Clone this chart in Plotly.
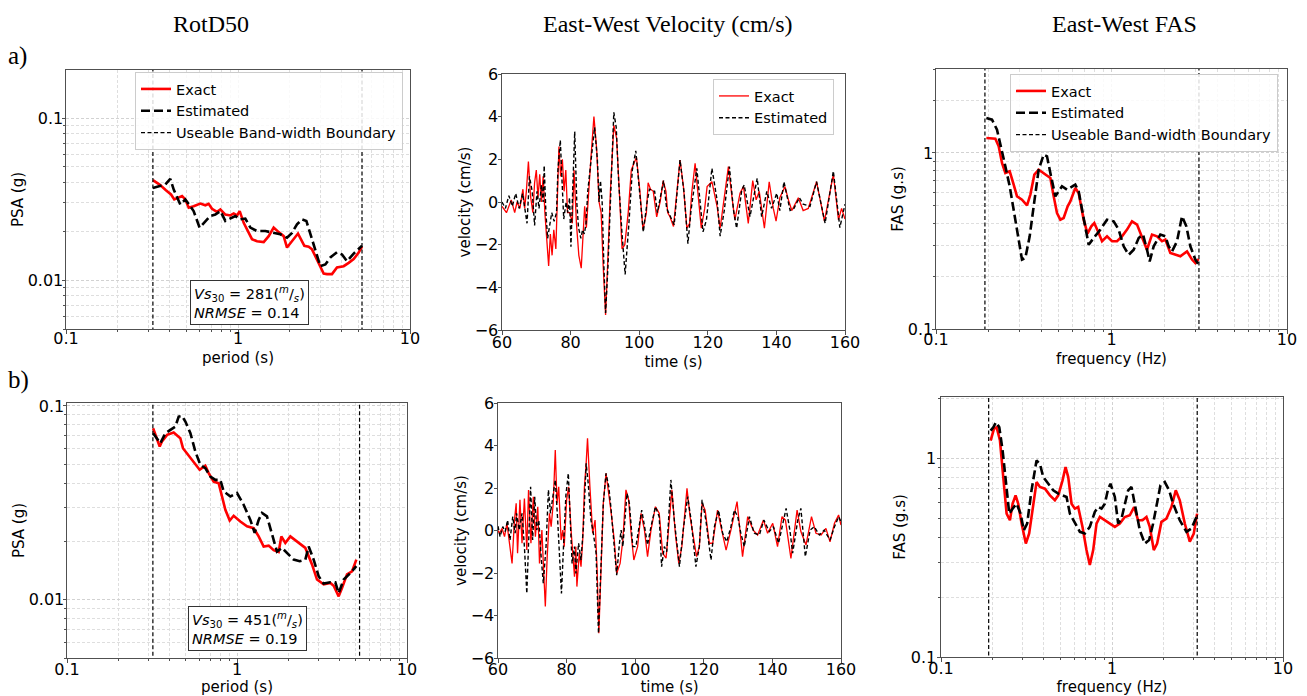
import math
import plotly.graph_objects as go

W, H = 1307, 696

# ---------------- data ----------------
BAND_PERIOD = [0.32, 5.26]      # usable band (period, s)
BAND_FREQ = [0.19, 3.15]        # usable band (frequency, Hz)
BAND_Y = [1e-4, 1e2]            # full vertical extent of boundary lines

# a) RotD50  (period s, PSA g)
A_PSA_EXACT = [(0.320,0.0414),(0.350,0.0389),(0.381,0.0359),(0.408,0.0338),(0.426,0.0315),(0.452,0.0322),
               (0.473,0.0330),(0.494,0.0315),(0.517,0.0280),(0.552,0.0286),(0.604,0.0297),(0.646,0.0290),
               (0.675,0.0296),(0.706,0.0276),(0.755,0.0264),(0.790,0.0273),(0.844,0.0254),(0.902,0.0251),
               (0.944,0.0258),(0.987,0.0251),(1.023,0.0267),(1.079,0.0226),(1.153,0.0196),(1.206,0.0179),
               (1.29,0.0174),(1.41,0.0172),(1.508,0.0187),(1.612,0.0211),(1.723,0.0198),(1.843,0.0187),
               (1.927,0.0159),(2.061,0.0174),(2.233,0.0194),(2.431,0.0163),(2.576,0.0161),(2.693,0.0155),
               (2.944,0.0128),(3.148,0.0110),(3.291,0.0109),(3.519,0.0109),(3.763,0.0120),(4.115,0.0122),
               (4.40,0.0128),(4.704,0.0135),(5.03,0.0148),(5.26,0.0161)]
A_PSA_EST = [(0.320,0.0371),(0.350,0.0380),(0.378,0.0389),(0.404,0.0422),(0.423,0.0362),(0.462,0.0293),
             (0.494,0.0315),(0.524,0.0289),(0.552,0.0267),(0.598,0.0211),(0.646,0.0232),(0.690,0.0249),
             (0.738,0.0254),(0.790,0.0267),(0.844,0.0232),(0.902,0.0239),(0.965,0.0249),(1.023,0.0237),
             (1.103,0.0240),(1.18,0.0211),(1.29,0.0201),(1.442,0.0201),(1.612,0.0196),(1.762,0.0192),
             (1.927,0.0183),(2.061,0.0196),(2.203,0.0221),(2.356,0.0237),(2.497,0.0232),(2.634,0.0192),
             (2.816,0.0155),(3.011,0.0122),(3.219,0.0125),(3.441,0.0138),(3.763,0.0149),(4.025,0.0144),
             (4.303,0.0131),(4.704,0.0146),(5.26,0.0163)]

# b) RotD50
B_PSA_EXACT = [(0.321,0.0767),(0.351,0.0617),(0.362,0.0655),(0.388,0.0709),(0.424,0.0729),(0.464,0.0681),
               (0.481,0.0605),(0.532,0.0537),(0.603,0.0468),(0.651,0.0491),(0.681,0.0450),(0.729,0.0407),
               (0.780,0.0399),(0.816,0.0341),(0.854,0.0291),(0.906,0.0256),(0.956,0.0271),(1.046,0.0253),
               (1.145,0.0239),(1.253,0.0234),(1.341,0.0212),(1.435,0.0188),(1.536,0.0190),(1.643,0.0180),
               (1.758,0.0176),(1.823,0.0212),(1.924,0.0196),(2.059,0.0212),(2.305,0.0196),(2.523,0.0185),
               (2.762,0.0152),(2.955,0.0127),(3.235,0.0120),(3.54,0.0122),(3.704,0.0118),(3.963,0.0104),
               (4.147,0.0115),(4.437,0.0135),(4.748,0.0140),(5.035,0.0161)]
B_PSA_EST = [(0.321,0.0723),(0.338,0.0681),(0.354,0.0642),(0.379,0.0723),(0.415,0.0767),(0.434,0.0782),
             (0.454,0.0881),(0.475,0.0888),(0.497,0.0830),(0.532,0.0723),(0.569,0.0581),(0.609,0.0496),
             (0.651,0.0477),(0.697,0.0432),(0.746,0.0415),(0.798,0.0415),(0.835,0.0362),(0.914,0.0341),
             (1.0,0.0355),(1.094,0.0309),(1.198,0.0258),(1.27,0.0221),(1.341,0.0258),(1.403,0.0280),
             (1.501,0.0269),(1.607,0.0221),(1.719,0.0177),(1.839,0.0185),(1.968,0.0174),(2.154,0.0161),
             (2.337,0.0158),(2.523,0.0161),(2.64,0.0188),(2.825,0.0161),(3.023,0.0132),(3.235,0.0121),
             (3.54,0.0123),(3.788,0.0123),(3.963,0.0108),(4.242,0.0127),(4.642,0.0137),(5.035,0.0149)]

# a) East-West velocity (time s, cm/s)
A_VEL_EXACT = [(60,-0.2),(61.3,-0.5),(62.7,0.1),(63.7,-0.5),(64.4,0.0),(65.2,-0.3),(66.1,0.6),(66.6,-0.3),
               (67.1,0.5),(67.7,1.9),(68.3,0.3),(69.0,-0.5),(69.5,0.9),(70.0,1.5),(70.5,0.2),(71.0,1.3),
               (71.5,0.0),(72.0,1.2),(72.5,-0.5),(73.0,-1.5),(73.6,-3.0),(74.1,-1.5),(74.6,-2.5),(75.1,-1.3),
               (75.7,-2.2),(76.3,1.0),(76.6,2.6),(77.1,1.2),(77.6,2.0),(78.1,0.5),(78.6,1.5),(79.1,-0.5),
               (79.8,-0.5),(80.5,-1.0),(81.0,1.5),(81.7,-1.0),(82.4,-2.5),(83.1,-3.1),(83.6,-1.5),(84.1,-0.2),
               (84.6,-1.2),(85.2,0.5),(85.9,2.0),(86.8,4.0),(87.6,2.5),(88.3,0.0),(88.9,-0.5),(89.5,-3.0),
               (90.2,-5.3),(90.9,-2.5),(91.6,0.5),(92.6,3.6),(93.4,3.0),(94.2,0.5),(95.0,-2.2),(95.8,-2.0),
               (96.8,-0.5),(97.7,1.5),(99.2,2.1),(100.2,0.5),(101.1,-1.3),(102.1,-0.5),(102.6,0.9),(103.3,0.6),
               (104.1,0.5),(105.1,-0.7),(106.1,0.0),(107.0,1.0),(107.8,0.5),(108.3,-0.5),(109.0,-0.7),
               (110.0,-1.15),(111.0,0.56),(111.9,1.97),(112.9,0.72),(113.9,-1.23),(114.7,-1.0),(115.3,0.41),
               (116.3,1.81),(117.3,0.25),(118.1,-1.23),(119.1,-0.3),(119.8,0.72),(121.2,0.95),(122.7,-0.2),
               (123.6,-1.23),(124.6,-0.1),(126.0,1.66),(127.3,-0.1),(127.9,-0.84),(129.4,0.41),(130.4,0.72),
               (131.8,-1.0),(133.1,1.0),(134.1,0.1),(135.0,0.5),(136.5,-1.23),(137.9,0.95),(139.1,-0.3),
               (139.9,-0.9),(141.0,0.2),(142.5,0.72),(143.5,0.1),(144.5,-0.4),(146.4,0.2),(147.8,-0.4),
               (149.3,-0.3),(151.7,0.95),(154.0,-0.9),(156.6,1.3),(158.1,-0.84),(159.0,-0.3),(160.0,-0.8)]
A_VEL_EST = [(60,0.0),(61,-0.3),(62,0.3),(63,-0.2),(64,0.4),(65,-0.3),(66,0.4),(66.8,-0.5),(67.3,-1.0),
             (68,1.2),(68.8,0.5),(69.5,-1.1),(70.2,0.5),(70.8,-0.3),(71.5,0.8),(72.0,0.0),(72.3,1.7),
             (72.8,-0.5),(73.3,-1.7),(73.8,-1.2),(74.5,-0.5),(75.2,-0.9),(75.9,-0.5),(76.3,1.5),(77.0,2.9),
             (77.5,1.0),(78.0,-0.8),(78.7,0.0),(79.2,-0.5),(79.7,0.2),(80.1,-2.1),(80.6,0.5),(81.2,3.3),
             (81.8,0.0),(82.3,-1.2),(83.0,-1.7),(83.5,-1.3),(84.0,-1.5),(84.5,-1.0),(85.0,0.5),(86.0,2.0),
             (87.0,3.5),(87.8,2.0),(88.3,0.0),(88.7,1.0),(89.2,0.0),(89.7,-3.0),(90.2,-5.2),(90.9,-3.0),
             (91.6,0.0),(92.6,4.2),(93.3,3.5),(94.0,1.0),(95.0,-1.5),(95.9,-3.4),(97.0,-1.0),(98.0,1.5),
             (99.0,2.4),(100.0,0.5),(101.2,-1.4),(102.3,0.0),(103.0,0.6),(104.5,0.5),(105.3,-0.5),(106.5,0.5),
             (107.1,1.0),(108.0,-0.3),(109.0,-0.69),(110.2,-1.07),(111.9,1.97),(113.1,0.41),(114.2,-1.95),
             (115.1,-0.4),(116.8,1.58),(117.8,0.1),(118.6,-1.4),(119.6,-0.84),(121.2,1.58),(122.7,0.1),
             (123.6,-1.6),(124.8,-0.4),(126.3,1.66),(127.5,-0.4),(128.4,-1.23),(129.9,0.56),(130.6,0.8),
             (132.3,-0.69),(134.4,1.11),(135.7,-0.69),(137.2,0.5),(138.6,-0.3),(140.1,0.41),(141.0,-0.4),
             (142.2,0.95),(144.0,-0.4),(145.1,-0.3),(146.7,0.2),(147.8,-0.1),(149.8,-0.2),(151.7,0.95),
             (154.2,-1.0),(156.6,1.45),(158.5,-1.2),(160.0,-0.1)]

# b) East-West velocity
B_VEL_EXACT = [(60,0.0),(60.4,-0.13),(61.2,0.1),(61.9,-0.29),(62.6,0.34),(63.3,-0.45),(64.1,-1.55),(64.8,0.49),
               (65.3,1.28),(65.7,-1.07),(66.4,1.44),(67.0,-0.6),(67.7,1.51),(68.4,-0.92),(68.9,1.9),(69.6,-0.6),
               (70.3,1.59),(70.9,-0.29),(71.6,1.12),(72.1,-1.55),(72.8,0.02),(73.3,-1.86),(73.8,-3.58),
               (74.3,-1.39),(75.0,0.81),(75.5,0.18),(76.1,1.28),(76.7,3.79),(77.2,1.28),(77.7,2.06),(78.4,-0.45),
               (78.9,0.02),(79.3,-0.76),(80.0,1.44),(80.6,2.06),(81.3,0.02),(81.8,-1.07),(82.3,-2.17),
               (82.7,-0.76),(83.0,-2.64),(83.7,-1.07),(84.2,-1.7),(84.7,-0.45),(85.2,2.06),(85.7,3.16),
               (86.1,4.34),(86.8,2.06),(87.6,-0.13),(88.3,0.49),(88.9,-1.86),(89.4,-4.84),(90.0,-1.86),
               (90.7,1.28),(91.5,2.69),(92.2,1.91),(92.9,0.96),(93.9,-0.45),(94.6,-2.02),(95.6,-1.55),
               (96.4,-0.45),(97.3,1.91),(98.1,1.44),(98.8,-0.13),(99.6,-1.39),(100.7,-0.76),(101.7,0.81),
               (102.7,0.02),(103.6,-1.23),(104.6,0.02),(105.9,1.12),(107.0,0.81),(108.0,-1.07),(109.0,-1.3),
               (110.0,0.49),(110.7,1.91),(111.7,-0.13),(112.7,-1.55),(113.6,-0.76),(114.3,0.49),(115.1,1.98),
               (116.0,0.65),(117.0,-0.29),(117.9,-1.23),(118.7,-0.76),(119.5,1.28),(120.4,0.96),(121.6,-0.6),
               (122.6,-0.6),(124.0,0.96),(125.0,0.18),(126.5,-0.92),(127.9,0.02),(129.7,1.36),(131.3,-1.23),
               (132.8,0.65),(134.4,0.02),(135.7,-0.21),(137.4,0.49),(138.6,-0.13),(140.1,0.34),(141.5,-0.76),
               (142.8,0.65),(143.8,0.49),(145.4,-1.31),(147.2,0.96),(148.3,-0.05),(149.8,-0.68),(151.4,0.65),
               (152.7,-0.13),(154.2,-0.21),(155.6,0.1),(156.8,-0.53),(158.1,0.34),(159.3,0.73),(160.0,0.26)]
B_VEL_EST = [(60,0.2),(60.6,-0.29),(61.4,0.18),(62.1,-0.05),(62.8,0.49),(63.5,-0.45),(64.3,0.65),(65.0,-0.13),
             (65.4,0.81),(66.2,0.02),(67.0,0.81),(67.7,-0.76),(68.4,-2.96),(68.9,-0.29),(69.5,2.06),(70.1,-0.45),
             (70.7,1.59),(71.3,0.02),(71.9,0.49),(72.5,-1.07),(73.2,-2.48),(74.0,-0.76),(74.7,1.91),(75.3,0.81),
             (75.9,1.59),(76.7,2.38),(77.4,0.49),(77.9,-1.07),(78.5,-2.96),(79.1,-0.76),(79.8,1.67),(80.5,2.69),
             (81.1,0.49),(81.6,-1.55),(82.3,-0.76),(82.7,-2.02),(83.5,-0.6),(84.2,-1.39),(84.9,0.18),(85.7,3.16),
             (86.3,2.22),(87.1,0.49),(87.8,-0.13),(88.6,-1.07),(89.3,-4.84),(90.0,-1.86),(90.7,1.28),(91.5,2.69),
             (92.3,2.06),(92.9,1.12),(93.9,-0.76),(94.6,-2.1),(95.4,-0.6),(95.9,0.02),(96.4,-0.76),(97.6,1.75),
             (98.3,1.28),(99.3,-0.76),(100.2,-0.76),(101.9,0.96),(102.9,0.02),(103.6,-0.68),(104.6,0.18),
             (105.9,1.12),(107.0,0.65),(107.7,-1.7),(108.5,-0.76),(109.2,-1.0),(110.4,2.38),(111.4,0.49),
             (112.9,-1.7),(114.0,0.02),(115.3,1.59),(116.3,0.49),(117.7,-1.7),(118.7,-0.76),(119.5,1.44),
             (120.6,0.49),(122.1,-1.39),(123.1,0.18),(124.3,0.96),(125.5,-0.13),(126.7,-0.53),(127.9,0.18),
             (128.9,0.96),(129.9,0.65),(130.8,-0.13),(131.8,-0.76),(133.3,0.65),(134.7,-0.13),(136.2,-0.21),
             (137.5,0.49),(139.1,-0.05),(140.3,0.18),(141.8,-0.6),(143.0,0.34),(144.0,1.04),(145.1,0.02),
             (145.9,-1.07),(147.4,0.49),(148.3,1.04),(149.6,-1.23),(151.0,0.02),(152.2,0.18),(153.7,-0.21),
             (155.1,0.02),(156.8,-0.45),(158.1,0.18),(159.3,0.65),(160.0,0.42)]

# a) East-West FAS (frequency Hz, g.s)
A_FAS_EXACT = [(0.1936,1.217),(0.2179,1.206),(0.2276,1.091),(0.2377,0.877),(0.2484,0.770),(0.2630,0.787),
               (0.2771,0.661),(0.2895,0.567),(0.3090,0.543),(0.3300,0.504),(0.3449,0.580),(0.3634,0.753),
               (0.3846,0.804),(0.4107,0.770),(0.4483,0.721),(0.4684,0.567),(0.4892,0.456),(0.5111,0.418),
               (0.5338,0.427),(0.5626,0.498),(0.5826,0.531),(0.622,0.633),(0.6499,0.593),(0.694,0.418),
               (0.73,0.348),(0.7673,0.383),(0.798,0.400),(0.845,0.351),(0.883,0.315),(0.943,0.336),
               (1.007,0.315),(1.075,0.315),(1.148,0.336),(1.226,0.367),(1.309,0.409),(1.398,0.392),
               (1.493,0.336),(1.593,0.282),(1.701,0.344),(1.817,0.336),(1.94,0.315),(2.027,0.322),
               (2.164,0.270),(2.311,0.264),(2.468,0.259),(2.693,0.276),(2.876,0.248),(3.005,0.237),(3.139,0.250)]
A_FAS_EST = [(0.1936,1.581),(0.2085,1.547),(0.2226,1.357),(0.2346,1.091),(0.2484,0.840),(0.2630,0.647),
             (0.2771,0.476),(0.2920,0.336),(0.3090,0.248),(0.3228,0.253),(0.3418,0.336),(0.3602,0.498),
             (0.3846,0.804),(0.4107,0.978),(0.4291,0.957),(0.4483,0.770),(0.4786,0.567),(0.5000,0.606),
             (0.5223,0.647),(0.5577,0.619),(0.6220,0.661),(0.6499,0.606),(0.6940,0.437),(0.7411,0.301),
             (0.7914,0.329),(0.8638,0.367),(0.9427,0.418),(1.0288,0.409),(1.0985,0.367),(1.1731,0.295),
             (1.2528,0.264),(1.3379,0.282),(1.4288,0.329),(1.5126,0.344),(1.5934,0.282),(1.6502,0.242),
             (1.7389,0.295),(1.8982,0.344),(2.0268,0.336),(2.1174,0.295),(2.2121,0.276),(2.3620,0.315),
             (2.5222,0.437),(2.6699,0.383),(2.8138,0.295),(3.0046,0.248),(3.1389,0.232)]

# b) East-West FAS
B_FAS_EXACT = [(0.1951,1.226),(0.2040,1.403),(0.2115,1.430),(0.2212,1.226),(0.2313,0.803),(0.2419,0.526),
               (0.2530,0.487),(0.2622,0.590),(0.2730,0.650),(0.2829,0.590),(0.2960,0.469),(0.3134,0.372),
               (0.3278,0.418),(0.3460,0.590),(0.3620,0.758),(0.3788,0.716),(0.4053,0.702),(0.4336,0.650),
               (0.4635,0.614),(0.4849,0.650),(0.5138,0.773),(0.5350,0.901),(0.5546,0.803),(0.5800,0.590),
               (0.6066,0.557),(0.6343,0.568),(0.6723,0.451),(0.7093,0.345),(0.7419,0.290),(0.7762,0.345),
               (0.8118,0.469),(0.8491,0.506),(0.9082,0.487),(0.9712,0.469),(1.0389,0.451),(1.1112,0.469),
               (1.1885,0.506),(1.2711,0.516),(1.3474,0.568),(1.4219,0.487),(1.5071,0.487),(1.5903,0.506),
               (1.6633,0.451),(1.7553,0.345),(1.8361,0.372),(1.9458,0.478),(2.0810,0.497),(2.2263,0.568),
               (2.3600,0.689),(2.4913,0.614),(2.6651,0.469),(2.8502,0.380),(3.0077,0.418),(3.1457,0.526)]
B_FAS_EST = [(0.1951,1.376),(0.2022,1.430),(0.2096,1.515),(0.2192,1.430),(0.2293,1.092),(0.2398,0.744),
             (0.2507,0.526),(0.2622,0.557),(0.2767,0.590),(0.2920,0.526),(0.3050,0.434),(0.3191,0.469),
             (0.3383,0.689),(0.3620,0.973),(0.3788,0.937),(0.3963,0.803),(0.4240,0.744),(0.4534,0.689),
             (0.4849,0.663),(0.5138,0.650),(0.5423,0.638),(0.5671,0.526),(0.6066,0.469),(0.6487,0.426),
             (0.6936,0.418),(0.7419,0.451),(0.7938,0.537),(0.8302,0.568),(0.8683,0.557),(0.9082,0.590),
             (0.9497,0.702),(0.9800,0.744),(1.0389,0.638),(1.0865,0.469),(1.1364,0.497),(1.1885,0.590),
             (1.2429,0.689),(1.2999,0.716),(1.3595,0.590),(1.4540,0.434),(1.5551,0.372),(1.6484,0.387),
             (1.7396,0.469),(1.8197,0.568),(1.9198,0.730),(2.0349,0.758),(2.1577,0.689),(2.2771,0.590),
             (2.4913,0.487),(2.7254,0.426),(2.9149,0.443),(3.1176,0.506)]

STATS_A = ("281", "0.14")
STATS_B = ("451", "0.19")
COL_TITLES = ["RotD50", "East-West Velocity (cm/s)", "East-West FAS"]
ROW_LABELS = ["a)", "b)"]

# ---------------- layout helpers ----------------
SANS = "DejaVu Sans"
SERIF = "Liberation Serif"
AXC = "#505050"
GRIDC = "#d2d2d2"
MINORC = "#dedede"
GDASH = "3px,2px"
MINOR_LOG = [m * 10.0 ** e for e in range(-3, 2) for m in range(2, 10)]


def xd(p0, p1):
    return [p0 / W, p1 / W]


def yd(top, bottom):
    return [1 - bottom / H, 1 - top / H]


def base_axis(dom, anchor, title, standoff, lab_shift):
    return dict(domain=dom, anchor=anchor, showline=True, linecolor=AXC, linewidth=1, mirror=True,
                ticks="outside", ticklen=3.5, tickcolor=AXC, zeroline=False, automargin=False,
                ticklabelstandoff=lab_shift,
                tickfont=dict(family=SANS, size=16, color="black"),
                title=dict(text=title, font=dict(family=SANS, size=15, color="black"), standoff=standoff))


def log_axis(dom, anchor, title, standoff, lab_shift, lo, hi, vals, texts):
    a = base_axis(dom, anchor, title, standoff, lab_shift)
    a.update(type="log", range=[math.log10(lo), math.log10(hi)], tickmode="array",
             tickvals=vals, ticktext=texts, showgrid=True, gridcolor=GRIDC, griddash=GDASH, gridwidth=1,
             minor=dict(tickmode="array", tickvals=MINOR_LOG, ticks="outside", ticklen=2, tickcolor=AXC,
                        showgrid=True, gridcolor=MINORC, griddash=GDASH, gridwidth=1))
    return a


def lin_axis(dom, anchor, title, standoff, lab_shift, lo, hi, dt):
    a = base_axis(dom, anchor, title, standoff, lab_shift)
    a.update(range=[lo, hi], dtick=dt, tick0=lo, showgrid=False)
    return a


fig = go.Figure()


def add_pairs(pairs, xa, ya, name, color, width, dash, legend, show):
    fig.add_trace(go.Scatter(x=[p[0] for p in pairs], y=[p[1] for p in pairs], mode="lines",
                             line=dict(color=color, width=width, dash=dash), name=name,
                             xaxis=xa, yaxis=ya, legend=legend, showlegend=show, hoverinfo="skip"))


def add_band(band, xa, ya, legend, show):
    for i, b in enumerate(band):
        fig.add_trace(go.Scatter(x=[b, b], y=BAND_Y, mode="lines",
                                 line=dict(color="black", width=1.2, dash="4px,2.5px"),
                                 name="Useable Band-width Boundary", xaxis=xa, yaxis=ya, legend=legend,
                                 showlegend=(show and i == 0), hoverinfo="skip"))


THICK_DASH = "9px,4px"
# row a
add_pairs(A_PSA_EXACT, "x", "y", "Exact", "#ff0000", 2.6, "solid", "legend", True)
add_pairs(A_PSA_EST, "x", "y", "Estimated", "black", 2.6, THICK_DASH, "legend", True)
add_band(BAND_PERIOD, "x", "y", "legend", True)
add_pairs(A_VEL_EXACT, "x2", "y2", "Exact", "#ff0000", 1.3, "solid", "legend2", True)
add_pairs(A_VEL_EST, "x2", "y2", "Estimated", "black", 1.4, "4px,2.5px", "legend2", True)
add_pairs(A_FAS_EXACT, "x3", "y3", "Exact", "#ff0000", 2.6, "solid", "legend3", True)
add_pairs(A_FAS_EST, "x3", "y3", "Estimated", "black", 2.6, THICK_DASH, "legend3", True)
add_band(BAND_FREQ, "x3", "y3", "legend3", True)
# row b
add_pairs(B_PSA_EXACT, "x4", "y4", "Exact", "#ff0000", 2.6, "solid", "legend", False)
add_pairs(B_PSA_EST, "x4", "y4", "Estimated", "black", 2.6, THICK_DASH, "legend", False)
add_band(BAND_PERIOD, "x4", "y4", "legend", False)
add_pairs(B_VEL_EXACT, "x5", "y5", "Exact", "#ff0000", 1.3, "solid", "legend2", False)
add_pairs(B_VEL_EST, "x5", "y5", "Estimated", "black", 1.4, "4px,2.5px", "legend2", False)
add_pairs(B_FAS_EXACT, "x6", "y6", "Exact", "#ff0000", 2.6, "solid", "legend3", False)
add_pairs(B_FAS_EST, "x6", "y6", "Estimated", "black", 2.6, THICK_DASH, "legend3", False)
add_band(BAND_FREQ, "x6", "y6", "legend3", False)

DEC_X = [0.1, 1, 10]
DEC_XT = ["0.1", "1", "10"]

layout = dict(
    width=W, height=H, margin=dict(l=0, r=0, t=0, b=0, autoexpand=False),
    paper_bgcolor="white", plot_bgcolor="white", showlegend=True,
    xaxis=log_axis(xd(66, 410), "y", "period (s)", 5, -9, 0.1, 10, DEC_X, DEC_XT),
    yaxis=log_axis(yd(70, 329), "x", "PSA (g)", 0, -5, 0.005, 0.198, [0.01, 0.1], ["0.01", "0.1"]),
    xaxis2=lin_axis(xd(502, 845), "y2", "time (s)", 5, -6, 60, 160, 20),
    yaxis2=lin_axis(yd(74, 330), "x2", "velocity (cm/s)", 0, -4, -6, 6, 2),
    xaxis3=log_axis(xd(936, 1287), "y3", "frequency (Hz)", 5, -8, 0.1, 10, DEC_X, DEC_XT),
    yaxis3=log_axis(yd(69, 329), "x3", "FAS (g.s)", 0, -5, 0.1, 3.0, [0.1, 1], ["0.1", "1"]),
    xaxis4=log_axis(xd(67, 407), "y4", "period (s)", 5, -7, 0.1, 10, DEC_X, DEC_XT),
    yaxis4=log_axis(yd(403, 658), "x4", "PSA (g)", 0, -5, 0.005, 0.1035, [0.01, 0.1], ["0.01", "0.1"]),
    xaxis5=lin_axis(xd(498, 841), "y5", "time (s)", 5, -7, 60, 160, 20),
    yaxis5=lin_axis(yd(403, 658), "x5", "velocity (cm/s)", 0, -4, -6, 6, 2),
    xaxis6=log_axis(xd(941, 1283), "y6", "frequency (Hz)", 5, -7, 0.1, 10, DEC_X, DEC_XT),
    yaxis6=log_axis(yd(397, 657), "x6", "FAS (g.s)", 1, -3, 0.1, 2.03, [0.1, 1], ["0.1", "1"]),
)

leg_common = dict(xanchor="left", yanchor="top", bgcolor="rgba(255,255,255,0.85)", bordercolor="#cccccc",
                  borderwidth=1, font=dict(family=SANS, size=14.5, color="black"), tracegroupgap=0)
layout["legend"] = dict(x=135 / W, y=1 - 72 / H, **leg_common)
layout["legend2"] = dict(x=713 / W, y=1 - 79 / H, **leg_common)
layout["legend3"] = dict(x=1010 / W, y=1 - 74 / H, **leg_common)

ann = []
for txt, cx in zip(COL_TITLES, [211, 668, 1124]):
    ann.append(dict(text=txt, x=cx / W, y=1 - 24 / H, xref="paper", yref="paper", showarrow=False,
                    xanchor="center", yanchor="middle", font=dict(family=SERIF, size=24, color="black")))
for txt, cy in zip(ROW_LABELS, [56, 380]):
    ann.append(dict(text=txt, x=6 / W, y=1 - cy / H, xref="paper", yref="paper", showarrow=False,
                    xanchor="left", yanchor="middle", font=dict(family=SERIF, size=25, color="black")))


def stats_text(vs, err):
    return ("<i>Vs</i><sub>30</sub> = " + vs + "(<sup><i>m</i></sup>/<sub><i>s</i></sub>)<br>"
            "<i>NRMSE</i> = " + err)


for (vs, err), (cx, cy) in zip([STATS_A, STATS_B], [(249, 302), (247, 628)]):
    ann.append(dict(text=stats_text(vs, err), x=cx / W, y=1 - cy / H, xref="paper", yref="paper",
                    showarrow=False, xanchor="center", yanchor="middle", align="left",
                    bordercolor="#333333", borderwidth=1, borderpad=3, bgcolor="white",
                    font=dict(family=SANS, size=14.5, color="black")))
layout["annotations"] = ann

fig.update_layout(**layout)
fig.write_html("out.html")
